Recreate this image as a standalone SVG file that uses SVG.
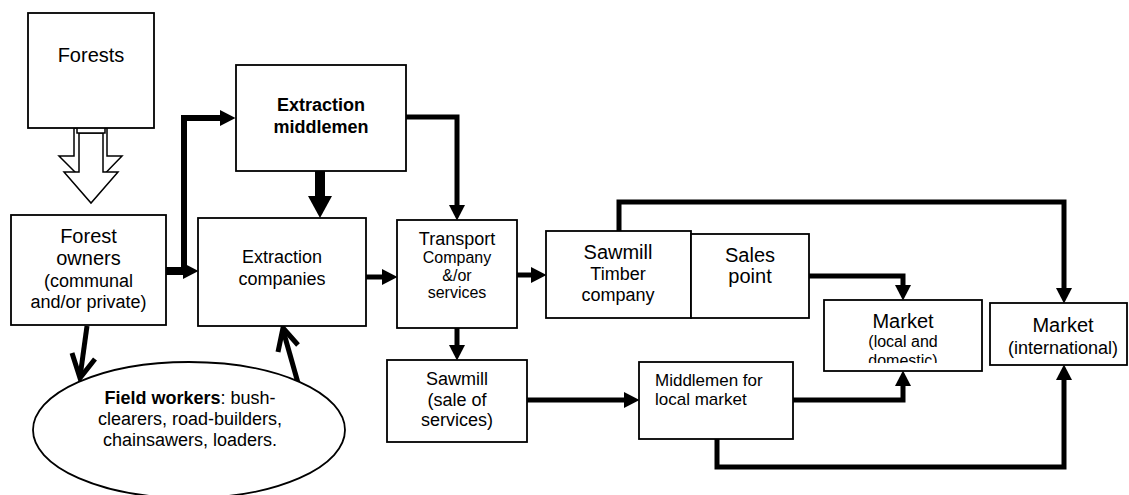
<svg xmlns="http://www.w3.org/2000/svg" width="1129" height="495" viewBox="0 0 1129 495">
<defs>
<style>
.box{fill:#fff;stroke:#000;stroke-width:1.8}
.t{font-family:"Liberation Sans",Arial,sans-serif;fill:#000;text-anchor:middle}
.c{fill:none;stroke:#000;stroke-width:5;stroke-linejoin:miter}
.v{fill:none;stroke:#000;stroke-width:5;stroke-linecap:butt;stroke-linejoin:miter}
</style>
<marker id="ah" markerUnits="userSpaceOnUse" markerWidth="16" markerHeight="16" refX="0" refY="8" orient="auto" overflow="visible">
<path d="M0,0 L15.5,8 L0,16 Z" fill="#000"/>
</marker>
<marker id="ahBig" markerUnits="userSpaceOnUse" markerWidth="22" markerHeight="24" refX="0" refY="12" orient="auto" overflow="visible">
<path d="M0,0 L22,12 L0,24 Z" fill="#000"/>
</marker>
<clipPath id="clipLocal"><rect x="824" y="300" width="158" height="63"/></clipPath>
</defs>
<rect width="1129" height="495" fill="#fff"/>

<g id="connectors">
<!-- hollow arrow from forests -->
<g id="forests-arrow" fill="#fff" stroke="#000" stroke-width="1.5">
<polygon points="74,128 107,128 107,156 122,156 91,188 59,156 74,156"/>
<polygon points="79,133 103,133 103,172 118,172 91,203 64,172 79,172"/>
<rect x="77" y="123" width="28" height="10"/>
<rect x="77" y="123" width="28" height="3" fill="#222"/>
</g>
<path class="c" style="stroke-width:6" d="M166,271 H184 V118 H220" marker-end="url(#ah)"/>
<path class="c" style="stroke-width:8" d="M166,271 H183" marker-end="url(#ah)"/>
<path class="c" style="stroke-width:10" d="M320,171 V196" marker-end="url(#ahBig)"/>
<path class="c" d="M406,117 H457 V205" marker-end="url(#ah)"/>
<path class="c" d="M366,277 H382" marker-end="url(#ah)"/>
<path class="c" d="M517,275 H531" marker-end="url(#ah)"/>
<path class="c" d="M457,328 V345" marker-end="url(#ah)"/>
<path class="c" d="M527,400 H624" marker-end="url(#ah)"/>
<path class="c" d="M619,231 V202 H1064 V288" marker-end="url(#ah)"/>
<path class="c" d="M809,276 H903 V285" marker-end="url(#ah)"/>
<path class="c" d="M793,400 H903 V386" marker-end="url(#ah)"/>
<path class="c" d="M717,439 V467 H1064 V380" marker-end="url(#ah)"/>
<line class="v" x1="87" y1="326" x2="80" y2="377"/>
<polyline class="v" points="72,353 80,378 95,359"/>
<line class="v" x1="298" y1="383" x2="283" y2="330"/>
<polyline class="v" points="278,352 283,328 298,345"/>
</g>

<g id="forests">
<rect class="box" x="28" y="13" width="126" height="115"/>
<text class="t" x="91" y="62" font-size="20">Forests</text>
</g>

<g id="forest-owners">
<rect class="box" x="11" y="215" width="155" height="110"/>
<text class="t" x="88.5" y="243" font-size="20">Forest</text>
<text class="t" x="88.5" y="265" font-size="20">owners</text>
<text class="t" x="88.5" y="287" font-size="18">(communal</text>
<text class="t" x="88.5" y="308" font-size="18">and/or private)</text>
</g>

<g id="extraction-middlemen">
<rect class="box" x="236" y="65" width="170" height="106"/>
<text class="t" x="321" y="111" font-size="18" font-weight="bold">Extraction</text>
<text class="t" x="321" y="133" font-size="18" font-weight="bold">middlemen</text>
</g>

<g id="extraction-companies">
<rect class="box" x="198" y="218" width="168" height="108"/>
<text class="t" x="282" y="263" font-size="18">Extraction</text>
<text class="t" x="282" y="285" font-size="18">companies</text>
</g>

<g id="transport">
<rect class="box" x="397" y="220" width="120" height="108"/>
<text class="t" x="457" y="245" font-size="18">Transport</text>
<text class="t" x="457" y="263" font-size="16">Company</text>
<text class="t" x="457" y="281" font-size="16">&amp;/or</text>
<text class="t" x="457" y="298" font-size="16">services</text>
</g>

<g id="sawmill-timber">
<rect class="box" x="546" y="231" width="145" height="87"/>
<text class="t" x="618" y="259" font-size="20">Sawmill</text>
<text class="t" x="618" y="280" font-size="18">Timber</text>
<text class="t" x="618" y="301" font-size="18">company</text>
</g>

<g id="sales-point">
<rect class="box" x="691" y="234" width="118" height="84"/>
<text class="t" x="750" y="262" font-size="20">Sales</text>
<text class="t" x="750" y="283" font-size="20">point</text>
</g>

<g id="market-local">
<rect class="box" x="824" y="300" width="158" height="71"/>
<g clip-path="url(#clipLocal)">
<text class="t" x="903" y="328" font-size="20">Market</text>
<text class="t" x="903" y="347" font-size="16">(local and</text>
<text class="t" x="903" y="366" font-size="16">domestic)</text>
</g>
</g>

<g id="market-international">
<rect class="box" x="990" y="303" width="137" height="62"/>
<text class="t" x="1063" y="332" font-size="20">Market</text>
<text class="t" x="1063" y="354" font-size="18">(international)</text>
</g>

<g id="sawmill-services">
<rect class="box" x="387" y="360" width="140" height="82"/>
<text class="t" x="457" y="385" font-size="18">Sawmill</text>
<text class="t" x="457" y="406" font-size="18">(sale of</text>
<text class="t" x="457" y="426" font-size="18">services)</text>
</g>

<g id="middlemen-local">
<rect class="box" x="639" y="362" width="154" height="77"/>
<text class="t" x="655" y="386" font-size="17" text-anchor="start" style="text-anchor:start">Middlemen for</text>
<text class="t" x="655" y="405" font-size="17" style="text-anchor:start">local market</text>
</g>

<g id="field-workers">
<ellipse class="box" cx="189" cy="430" rx="156" ry="68"/>
<text class="t" x="190" y="404" font-size="18"><tspan font-weight="bold">Field workers</tspan>: bush-</text>
<text class="t" x="190" y="425" font-size="18">clearers, road-builders,</text>
<text class="t" x="190" y="446" font-size="18">chainsawers, loaders.</text>
</g>
</svg>
